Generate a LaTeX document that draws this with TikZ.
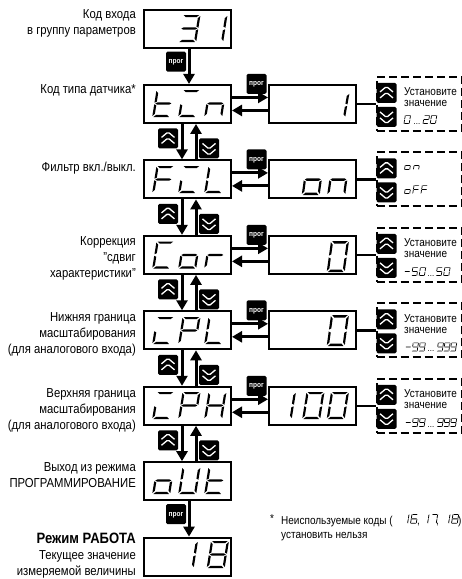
\documentclass[tikz,border=0pt]{standalone}
\usepackage{fontspec}
\setmainfont{Liberation Sans}[FakeStretch=0.87]
\usetikzlibrary{positioning, arrows.meta, calc}

% segments of one display character, top left corner at the origin
\newcommand{\sega}{\fill (1.2,0)--(16.8,0)--(14.4,2.2)--(3.6,2.2)--cycle;}
\newcommand{\segb}{\fill (18,1)--(18,12.7)--(15.8,11.7)--(15.8,3.2)--cycle;}
\newcommand{\segc}{\fill (18,14.3)--(18,26)--(15.8,23.8)--(15.8,15.3)--cycle;}
\newcommand{\segd}{\fill (1.2,27)--(3.6,24.8)--(14.4,24.8)--(16.8,27)--cycle;}
\newcommand{\sege}{\fill (0,14.3)--(2.2,15.3)--(2.2,23.8)--(0,26)--cycle;}
\newcommand{\segf}{\fill (0,1)--(2.2,3.2)--(2.2,11.7)--(0,12.7)--cycle;}
\newcommand{\segg}{\fill (1,13.5)--(3,12.4)--(15,12.4)--(17,13.5)--(15,14.6)--(3,14.6)--cycle;}
\newcommand{\defglyph}[2]{\expandafter\def\csname glyph#1\endcsname{\foreach \s in {#2} {\csname seg\s\endcsname}}}
\defglyph{0}{a,b,c,d,e,f}
\defglyph{1}{b,c}
\defglyph{2}{a,b,g,e,d}
\defglyph{3}{a,b,g,c,d}
\defglyph{5}{a,f,g,c,d}
\defglyph{6}{a,f,g,e,c,d}
\defglyph{7}{a,b,c}
\defglyph{8}{a,b,c,d,e,f,g}
\defglyph{9}{a,b,c,d,f,g}
\defglyph{t}{f,e,g,d}
\defglyph{i}{a,e,d}
\defglyph{n}{e,g,c}
\defglyph{F}{a,f,g,e}
\defglyph{L}{f,e,d}
\defglyph{C}{a,f,e,d}
\defglyph{o}{e,g,c,d}
\defglyph{r}{e,g}
\defglyph{P}{a,b,f,g,e}
\defglyph{H}{f,b,g,e,c}
\defglyph{U}{f,b,c,d,e}
\defglyph{m}{g}
% x, y of the first character, pitch, scale keys, characters
\newcommand{\segword}[5]{%
  \begin{scope}[shift={(#1,#2)},#4,xslant=0.16]
    \foreach \g [count=\i from 0] in {#5} {
      \begin{scope}[shift={({\i*#3},0)}]\csname glyph\g\endcsname\end{scope}
    }
  \end{scope}}

\begin{document}
\begin{tikzpicture}[x=1pt, y=-1pt, node distance=75.45pt, on grid,
    display/.style={draw, line width=2pt, minimum width=87pt, minimum height=38pt, inner sep=0pt},
    flow/.style={line width=3pt, -{Triangle[length=10pt,width=11pt]}},
    key/.style={fill=black, rounded corners=1.5pt, minimum size=20pt, inner sep=0pt},
    keyprog/.style={key, text=white, font=\fontsize{7.5}{7.5}\selectfont\bfseries, text depth=0pt},
    chevron/.style={draw=white, line width=1.3pt},
    keyup/.style={key, path picture={
      \draw[chevron] ([shift={(-6.5,-1)}]path picture bounding box.center) -- ++(6.5,-5.5) -- ++(6.5,5.5);
      \draw[chevron] ([shift={(-6.5,5)}]path picture bounding box.center) -- ++(6.5,-5.5) -- ++(6.5,5.5);}},
    keydown/.style={key, path picture={
      \draw[chevron] ([shift={(-6.5,-5)}]path picture bounding box.center) -- ++(6.5,5.5) -- ++(6.5,-5.5);
      \draw[chevron] ([shift={(-6.5,1)}]path picture bounding box.center) -- ++(6.5,5.5) -- ++(6.5,-5.5);}},
    dashbox/.style={draw, line width=2pt, dash pattern=on 8pt off 4pt, minimum width=85pt, minimum height=54pt, inner sep=0pt},
    caption/.style={anchor=east, align=right, font=\fontsize{13}{15.9}\selectfont, inner sep=0pt},
    hint/.style={anchor=west, font=\fontsize{11.5}{11.5}\selectfont, inner sep=0pt},
    dots/.style={font=\fontsize{9}{9}\selectfont, inner sep=0pt, anchor=base},
  ]
    \useasboundingbox (0,0) rectangle (462,579);

    % left column
    \node[display] (dEntry) at (187.5,28.5) {};
    \node[display, below=of dEntry] (dTin) {};
    \node[display, below=of dTin] (dFil) {};
    \node[display, below=of dFil] (dCor) {};
    \node[display, below=of dCor] (dIpl) {};
    \node[display, below=of dIpl] (dIph) {};
    \node[display, below=of dIph] (dOut) {};
    \node[display, below=of dOut] (dWork) {};

    % right column
    \foreach \a in {Tin, Fil, Cor, Ipl, Iph} {
      \node[display, right=125pt of d\a] (v\a) {};
      \node[dashbox, right=106.5pt of v\a] (b\a) {};
      \draw[line width=2.5pt] (v\a) -- (b\a);
      \draw[flow] ([yshift=6.5pt]d\a.east) -- ([yshift=6.5pt]v\a.west);
      \draw[flow] ([yshift=-6.5pt]v\a.west) -- ([yshift=-6.5pt]d\a.east);
      \node[keyprog] (p\a) at ([shift={(24.5,0)}]d\a.north east) {прог};
      \node[keyup] (bu\a) at ([shift={(-32.5,-11)}]b\a.center) {};
      \node[keydown] (bd\a) at ([shift={(-32.5,13)}]b\a.center) {};
    }

    % vertical connectors
    \foreach \a/\b in {Tin/Fil, Fil/Cor, Cor/Ipl, Ipl/Iph, Iph/Out} {
      \draw[flow] ([xshift=-5.5pt]d\a.south) -- ([xshift=-5.5pt]d\b.north);
      \draw[flow] ([xshift=8.5pt]d\b.north) -- ([xshift=8.5pt]d\a.south);
      \node[keyup] (ku\a) at ([shift={(-19.5,14.5)}]d\a.south) {};
      \node[keydown] (kd\a) at ([shift={(21.5,24.5)}]d\a.south) {};
    }
    \foreach \a/\b in {Entry/Tin, Out/Work} {
      \draw[flow] ([xshift=1.5pt]d\a.south) -- ([xshift=1.5pt]d\b.north);
      \node[keyprog] (p\a) at ([shift={(-11.5,13)}]d\a.south) {прог};
    }

    % captions
    \node[caption] (tEntry) at (136,23) {Код входа\\в группу параметров};
    \node[caption] (tTin) at (136,90) {Код типа датчика*};
    \node[caption] (tFil) at (136,168) {Фильтр вкл./выкл.};
    \node[caption] (tCor) at (136,258) {Коррекция\hspace{4pt}\\"сдвиг\\характеристики"};
    \node[caption] (tIpl) at (136,334) {Нижняя граница\\масштабирования\\(для аналогового входа)};
    \node[caption] (tIph) at (136,410) {Верхняя граница\\масштабирования\\(для аналогового входа)};
    \node[caption] (tOut) at (136,475.5) {Выход из режима\\ПРОГРАММИРОВАНИЕ};
    \node[caption] (tWork) at (136,556) {\fontsize{15}{15.9}\selectfont\textbf{Режим РАБОТА}\\Текущее значение\\измеряемой величины};

    % display characters
    \segword{182.5}{15}{27}{scale=1}{3,1}
    \segword{156.5}{90}{26}{scale=1}{t,i,n}
    \segword{156.5}{166}{26}{scale=1}{F,i,L}
    \segword{156.5}{241.5}{26}{scale=1}{C,o,r}
    \segword{156.5}{317}{26}{scale=1}{i,P,L}
    \segword{156.5}{392}{26}{scale=1}{i,P,H}
    \segword{156.5}{467}{26}{scale=1}{o,U,t}
    \segword{180}{541}{26}{scale=1}{1}
    \segword{211}{541}{26}{scale=1}{8}
    \segword{331.5}{93}{26}{yscale=0.9}{1}
    \segword{306}{164}{25.5}{yscale=1.15}{o,n}
    \segword{331}{241}{26}{yscale=1.15}{0}
    \segword{331}{315}{26}{yscale=1.15}{0}
    \segword{278}{392}{26}{scale=1}{1}
    \segword{306.5}{392}{24.5}{scale=1}{0,0}

    % hints
    \foreach \a in {Tin, Cor, Ipl, Iph} {
      \node[hint] (u\a) at ([shift={(-15,-12)}]b\a.center) {Установите};
      \node[hint] (z\a) at ([shift={(-15,0)}]b\a.center) {значение};
    }
    \segword{405}{115}{24}{scale=0.33}{0}
    \node[dots] (rTin) at (417,124) {...};
    \segword{424}{115}{22}{scale=0.33}{2,0}
    \segword{405.5}{161}{27}{scale=0.33}{o,n}
    \segword{405.5}{185}{25}{scale=0.33}{o,F,F}
    \segword{405}{267}{23}{scale=0.33}{m,5,0}
    \node[dots] (rCor) at (431,276) {...};
    \segword{437}{267}{23}{scale=0.33}{5,0}
    \segword{406}{342.5}{21}{scale=0.33}{m,9,9}
    \node[dots] (rIpl) at (431,351.5) {...};
    \segword{438}{342.5}{20}{scale=0.33}{9,9,9}
    \segword{406}{418}{21}{scale=0.33}{m,9,9}
    \node[dots] (rIph) at (431,427) {...};
    \segword{438}{418}{20}{scale=0.33}{9,9,9}

    % footnote
    \node[hint, anchor=base west] (tStar) at (270,522) {*};
    \node[hint, anchor=base west] (tUnused) at (281,524) {Неиспользуемые коды (};
    \node[hint, anchor=base west] (tNever) at (281,538.5) {установить нельзя};
    \segword{403}{514}{24}{scale=0.36}{1,6}
    \node[hint, anchor=base west] (tCa) at (417,524) {,};
    \segword{423}{514}{24}{scale=0.36}{1,7}
    \node[hint, anchor=base west] (tCb) at (436,524) {,};
    \segword{444}{514}{24}{scale=0.36}{1,8}
    \node[hint, anchor=base west] (tPar) at (458,524) {)};
\end{tikzpicture}
\end{document}
